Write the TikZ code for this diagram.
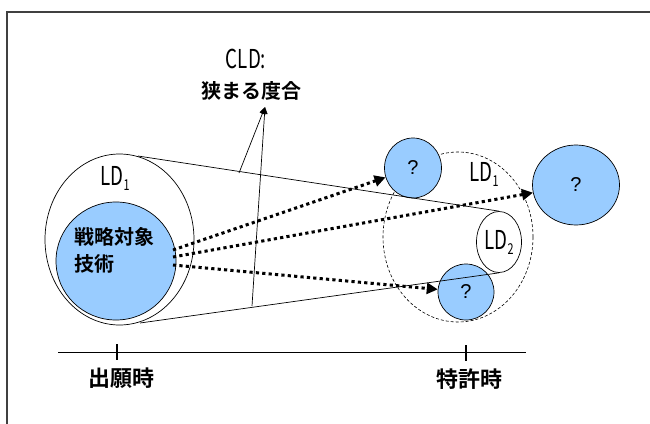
\documentclass[tikz,border=0pt]{standalone}
\usepackage{fontspec}
\usepackage{graphicx}
\newfontfamily\cjk{Noto Sans CJK JP}[BoldFont={Noto Sans CJK JP Bold}]
\newfontfamily\qfont{Liberation Sans}
\usetikzlibrary{shapes.geometric,arrows.meta}
\definecolor{lblue}{RGB}{153,204,255}
\newcommand{\LDsub}[1]{\scalebox{0.72}[1]{LD}\raisebox{-0.35ex}{\fontsize{15}{15}\selectfont\scalebox{0.72}[1]{#1}}}
\begin{document}
\begin{tikzpicture}[x=1pt,y=-1pt,
  ell/.style={ellipse,draw,line width=0.7pt,inner sep=0},
  bluec/.style={ell,fill=lblue},
  jtxt/.style={font=\cjk\bfseries\fontsize{20}{22}\selectfont,inner sep=0},
  jbig/.style={font=\cjk\bfseries\fontsize{22}{24}\selectfont,inner sep=0},
  ldtxt/.style={font=\cjk\fontsize{26}{28}\selectfont,inner sep=0},
  qtxt/.style={font=\qfont\fontsize{20}{22}\selectfont,inner sep=0},
  cone/.style={line width=0.7pt},
  darr/.style={line width=3pt,dash pattern=on 3.2pt off 3.2pt,-{Triangle[length=11pt,width=11pt]}},
  annot/.style={line width=0.7pt,-{Triangle[length=7pt,width=6pt]}},
  tick/.style={line width=2pt}]
\useasboundingbox (0,0) rectangle (650,423);
\fill[white] (0,0) rectangle (650,423);
% frame
\draw[line width=1.4pt,draw=black!75] (7,430) -- (7,12) -- (660,12);
% left ellipses
\node[ell,fill=white,minimum width=149pt,minimum height=171pt] (outer) at (119.5,239.5) {};
\node[bluec,minimum width=120pt,minimum height=118pt] (inner) at (116,261) {};
% right dashed LD1
\node[ell,dashed,dash pattern=on 3pt off 2pt,line width=0.6pt,minimum width=150pt,minimum height=170pt] (ldr) at (458,237) {};
% LD2
\node[ell,fill=white,minimum width=45pt,minimum height=61pt] (ld2) at (499,242) {};
% blue question circles
\node[bluec,minimum width=57pt,minimum height=60pt] (tl) at (413,168) {};
\node[bluec,minimum width=56pt,minimum height=56pt] (bc) at (466,292) {};
\node[bluec,minimum width=87pt,minimum height=80pt] (rc) at (576,185) {};
\node[qtxt] at (tl) {?};
\node[qtxt] at (bc) {?};
\node[qtxt] at (rc) {?};
% cone lines
\coordinate (ut) at (138,156);
\coordinate (lt) at (140,323);
\draw[cone] (ut) -- (ld2.north);
\draw[cone] (lt) -- (ld2.south);
% annotation
\node[ldtxt] (cld) at (246,59) {\scalebox{0.72}[1]{CLD:}};
\node[jtxt] (sema) at (251,91) {狭まる度合};
\coordinate (tip) at (265,107);
\coordinate (ap) at (239,173);
\coordinate (bp) at (252,306);
\draw[annot] (ap) -- (tip);
\draw[annot] (bp) -- (tip);
% labels
\node[ldtxt] (ld1l) at (115,178) {\LDsub{1}};
\node[ldtxt] (ld1r) at (484,174) {\LDsub{1}};
\node[ldtxt] (ld2t) at (ld2) {\LDsub{2}};
\node[jtxt,anchor=west] (t1) at (74,237) {戦略対象};
\node[jtxt,anchor=west] (t2) at (74,264) {技術};
% dotted arrows
\coordinate (s1) at (173,250);
\coordinate (s2) at (173,257);
\coordinate (s3) at (173,265);
\draw[darr] (s1) -- (tl);
\draw[darr] (s2) -- (rc);
\draw[darr] (s3) -- (bc);
% time axis
\coordinate (axl) at (58,352);
\coordinate (axr) at (526,352);
\draw[line width=0.8pt] (axl) -- (axr);
\draw[tick] (117,344) -- (117,360);
\draw[tick] (466,345) -- (466,361);
\node[jbig] (app) at (121,378) {出願時};
\node[jbig] (pat) at (469,379) {特許時};
\end{tikzpicture}
\end{document}
